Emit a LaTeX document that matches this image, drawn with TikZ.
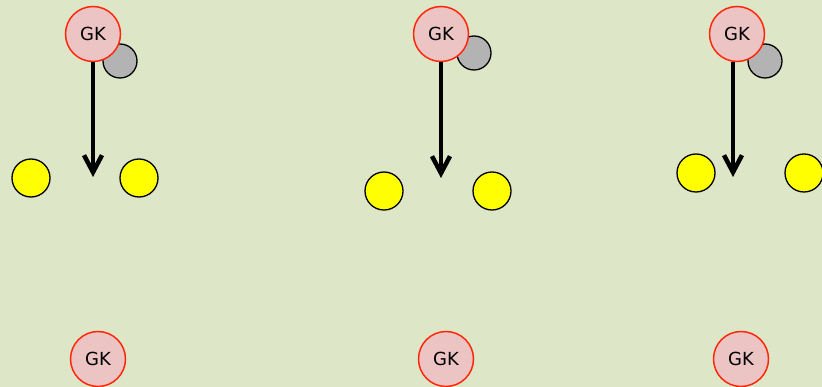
\documentclass[tikz,border=0pt]{standalone}
\usepackage{fontspec}
\setmainfont{DejaVu Sans}
\usetikzlibrary{arrows.meta}
\definecolor{bg}{RGB}{222,230,200}
\definecolor{gkfill}{RGB}{236,196,196}
\definecolor{gkline}{RGB}{255,40,10}
\definecolor{ballgray}{RGB}{179,179,179}
\definecolor{cone}{RGB}{255,255,0}
\tikzset{
  gk/.style={circle, draw=gkline, fill=gkfill, line width=1.5pt, minimum size=55pt, inner sep=0pt, font=\fontsize{18}{18}\selectfont},
  ball/.style={circle, draw=black, fill=ballgray, line width=1.3pt, minimum size=34pt, inner sep=0pt},
  cone/.style={circle, draw=black, fill=cone, line width=1.3pt, minimum size=38pt, inner sep=0pt},
  run/.style={line width=4.5pt, -{Straight Barb[length=17pt,width=18pt]}}
}
\begin{document}
\begin{tikzpicture}[x=1pt,y=-1pt]
\fill[bg] (0,0) rectangle (822,387);
\useasboundingbox (0,0) rectangle (822,387);
% panel 1
\node[ball] (b1) at (120,61) {};
\node[gk] (g1) at (93,34) {GK};
\node[cone] (c1l) at (31,178) {};
\node[cone] (c1r) at (139,178) {};
\node[gk] (h1) at (98,359) {GK};
\coordinate (e1) at (93,177);
\draw[run] (g1.south) -- (e1);
% panel 2
\node[ball] (b2) at (474,53) {};
\node[gk] (g2) at (441,34) {GK};
\node[cone] (c2l) at (384,191) {};
\node[cone] (c2r) at (492,191) {};
\node[gk] (h2) at (446,359) {GK};
\coordinate (e2) at (441,178);
\draw[run] (g2.south) -- (e2);
% panel 3
\node[ball] (b3) at (765,61) {};
\node[gk] (g3) at (737,34) {GK};
\node[cone] (c3l) at (696,173) {};
\node[cone] (c3r) at (804,173) {};
\node[gk] (h3) at (741,359) {GK};
\coordinate (e3) at (733,177);
\draw[run] (g3.south -| e3) -- (e3);
\end{tikzpicture}
\end{document}
